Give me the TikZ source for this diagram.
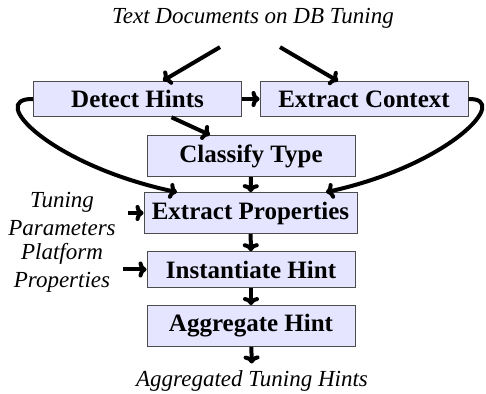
\documentclass[tikz,border=0pt]{standalone}
\usepackage{fontspec}
\setmainfont{Liberation Serif}
\usepackage{tikz}
\usetikzlibrary{arrows.meta}

\begin{document}
\begin{tikzpicture}[x=0.5pt, y=-0.5pt, every node/.style={font=\fontsize{11.5}{14}\selectfont, align=center}, >={To[length=4pt, width=8pt]},
	stage/.style={draw=black!70, line width=0.5pt, fill=blue!10, font=\fontsize{12.5}{14}\selectfont\bfseries, minimum width=104pt, inner xsep=3.5pt, inner ysep=4.5pt},
	flow/.style={->, line width=2pt}]
	\useasboundingbox (0,0) rectangle (486,394);
	\node (docs) at (253,18) {\itshape Text Documents on DB Tuning};
	\node[stage] (detect) at (137.5,99) {Detect Hints};
	\node[stage] (context) at (364,99) {Extract Context};
	\node[stage] (classify) at (251,156) {Classify Type};
	\node[stage, minimum width=106.5pt] (props) at (250.5,213) {Extract Properties};
	\node[stage] (inst) at (251,269.5) {Instantiate Hint};
	\node[stage] (aggr) at (251,326) {Aggregate Hint};
	\node (result) at (252,381) {\itshape Aggregated Tuning Hints};
	\node (params) at (62,214) {\itshape Tuning\\\itshape Parameters};
	\node (platform) at (62,268) {\itshape Platform\\\itshape Properties};
	\draw[flow] ([xshift=-16.5pt, yshift=-6pt]docs.south) -- ([xshift=12.75pt]detect.north);
	\draw[flow] ([xshift=13.5pt, yshift=-6pt]docs.south) -- ([xshift=-13pt]context.north);
	\draw[flow] (detect) -- (context);
	\draw[flow] ([xshift=17pt]detect.south) -- ([xshift=-20.5pt]classify.north);
	\draw[flow] (classify) -- (props);
	\draw[flow] (props) -- (inst);
	\draw[flow] (inst) -- (aggr);
	\draw[flow] (aggr) -- (result);
	\draw[flow, shorten <=2.5pt] (params.east |- props.west) -- (props.west);
	\draw[flow, shorten <=3pt] (platform.east |- inst.west) -- (inst.west);
	\draw[flow] (detect.west) .. controls (-14,98) and (50,165) .. ([xshift=-36.75pt]props.north);
	\draw[flow] (context.east) .. controls (512,98) and (450,165) .. ([xshift=37.75pt]props.north);
\end{tikzpicture}
\end{document}
